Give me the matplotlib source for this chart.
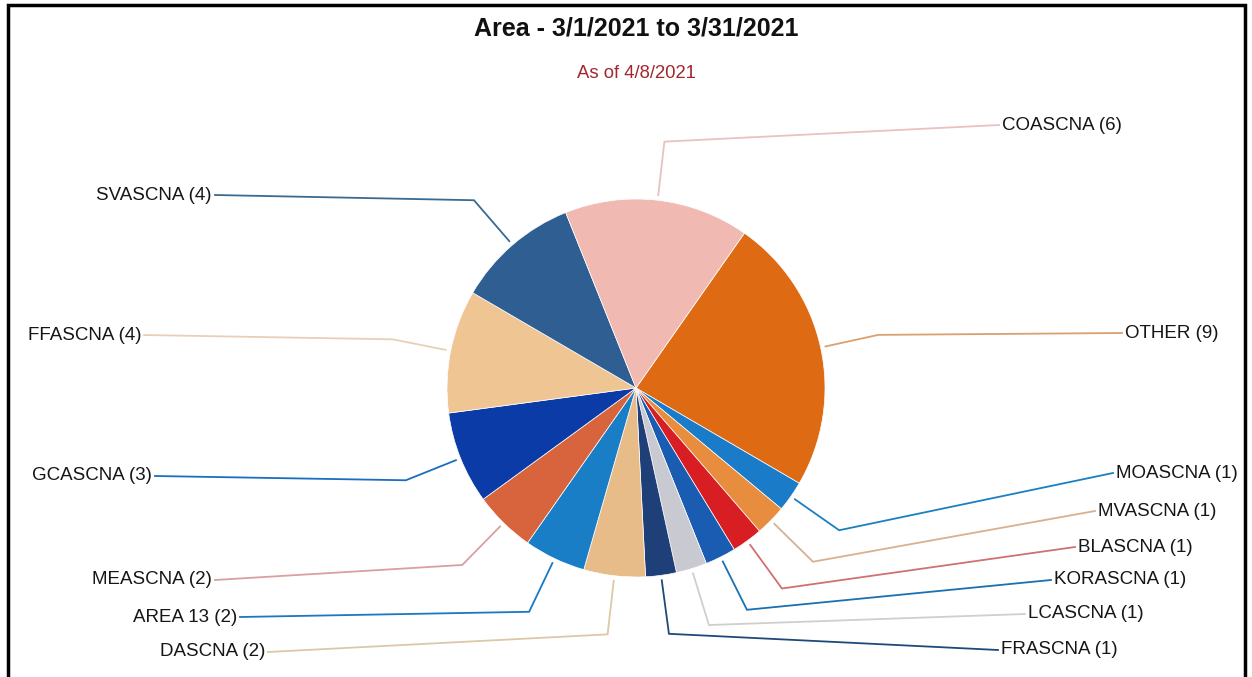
"""
Area pie chart - 3/1/2021 to 3/31/2021 (as of 4/8/2021)
"""
import matplotlib
matplotlib.use("Agg")
import matplotlib.pyplot as plt
import numpy as np

# ── 数据 ────────────────────────────────────────────────────
categories = ["OTHER", "MOASCNA", "MVASCNA", "BLASCNA", "KORASCNA", "LCASCNA",
              "FRASCNA", "DASCNA", "AREA 13", "MEASCNA", "GCASCNA", "FFASCNA",
              "SVASCNA", "COASCNA"]
counts = [9, 1, 1, 1, 1, 1, 1, 2, 2, 2, 3, 4, 4, 6]

slice_colors = ["#DE6A14", "#1A7CC8", "#E88C3E", "#D81E22", "#1A5CB2", "#C9C9D2",
                "#1E3F78", "#E8BC88", "#1A7EC6", "#D8643E", "#0B3BA6", "#F0C594",
                "#2F5F92", "#F0BAB2"]
line_colors = ["#D9A070", "#1A80C0", "#D8B090", "#D07070", "#1A70B0", "#CFCFCF",
               "#1E4A78", "#DCC8A8", "#1A78C0", "#D8A0A0", "#1A6EC0", "#E8D0B8",
               "#3A6A90", "#EBC0C0"]

# 标签位置（像素，y 从上往下）和对齐方式
label_pos = [(1125, 333, "left"), (1116, 473, "left"), (1098, 511, "left"),
             (1078, 547, "left"), (1054, 580, "left"), (1028, 614, "left"),
             (1001, 650, "left"), (265, 652, "right"), (237, 617, "right"),
             (212, 580, "right"), (152, 476, "right"), (141, 335, "right"),
             (212, 195, "right"), (1002, 125, "left")]

W, H = 1252, 677
CX, CY, R = 636, 388, 189

fig = plt.figure(figsize=(W / 100, H / 100), dpi=100)
ax = fig.add_axes([0, 0, 1, 1])

wedges, _ = ax.pie(counts, colors=slice_colors, startangle=55, counterclock=False,
                   center=(CX, H - CY), radius=R,
                   wedgeprops=dict(edgecolor="white", linewidth=0.5))

# ── 引线和标签 ──────────────────────────────────────────────
for w, name, n, lc, (lx, ly, ha) in zip(wedges, categories, counts, line_colors, label_pos):
    mid = np.deg2rad((w.theta1 + w.theta2) / 2)
    x0, y0 = CX + (R + 5) * np.cos(mid), (H - CY) + (R + 5) * np.sin(mid)
    x1, y1 = CX + 248 * np.cos(mid), (H - CY) + 248 * np.sin(mid)
    x2 = lx - 3 if ha == "left" else lx + 3
    ax.plot([x0, x1, x2], [y0, y1, H - ly], color=lc, linewidth=1.3,
            solid_joinstyle="miter")
    ax.text(lx, H - ly, f"{name} ({n})", ha=ha, va="center", fontsize=13.5,
            family="Liberation Sans", color="#161616")

# ── 标题 ────────────────────────────────────────────────────
ax.text(636, H - 29, "Area - 3/1/2021 to 3/31/2021", ha="center", va="center",
        fontsize=18, fontweight="bold", family="Liberation Sans", color="#111111")
ax.text(636, H - 74, "As of 4/8/2021", ha="center", va="center",
        fontsize=13.3, family="Liberation Sans", color="#A0282C")

# 外框（左、上、右）
ax.plot([8, 8, 1245, 1245], [0, H - 5, H - 5, 0], color="black", linewidth=2.5,
        solid_joinstyle="miter")

ax.set_xlim(0, W)
ax.set_ylim(0, H)
ax.set_aspect("equal")
ax.axis("off")

fig.savefig("out.png", dpi=100)
plt.close(fig)
